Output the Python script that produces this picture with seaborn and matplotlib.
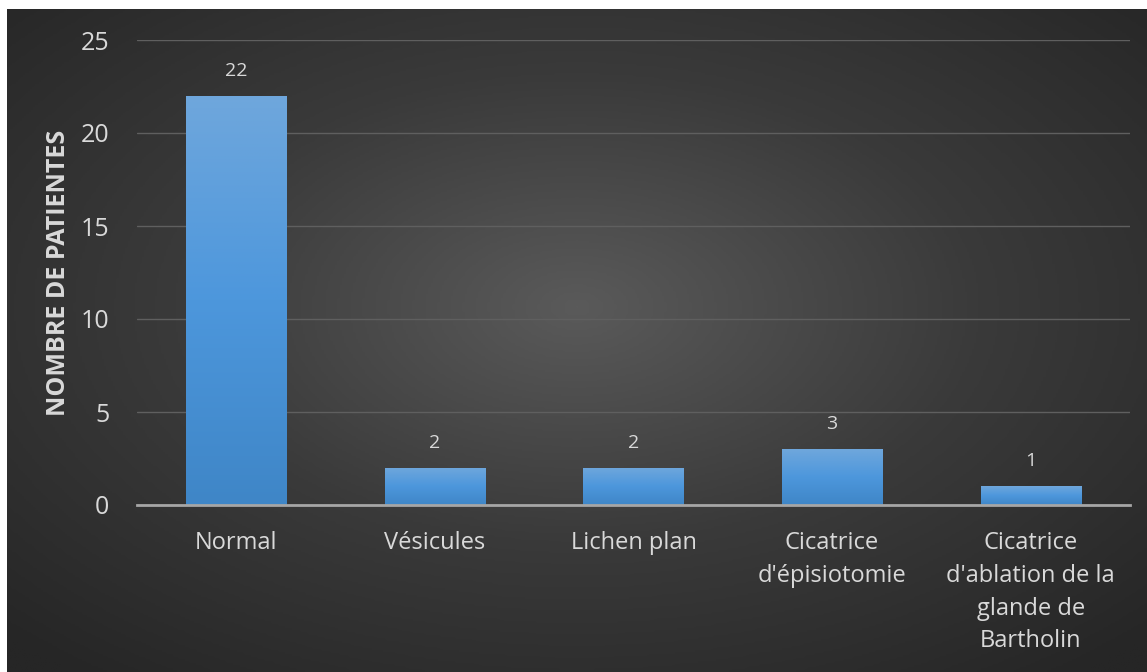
import numpy as np
import pandas as pd
import matplotlib
matplotlib.use("Agg")
import matplotlib.pyplot as plt
import seaborn as sns
from matplotlib.colors import LinearSegmentedColormap

categories = ["Normal", "Vésicules", "Lichen plan", "Cicatrice\nd'épisiotomie",
              "Cicatrice\nd'ablation de la\nglande de\nBartholin"]
values = [22, 2, 2, 3, 1]
y_ticks = [0, 5, 10, 15, 20, 25]
y_label = "NOMBRE DE PATIENTES"

sns.set_theme(style="dark")
plt.rcParams['font.family'] = ['Open Sans', 'DejaVu Sans']

W, H = 1147, 672
fig = plt.figure(figsize=(W / 100, H / 100), dpi=100)
fig.patch.set_facecolor("white")

# dark radial gradient background
bg = fig.add_axes([7 / W, 0, 1 - 7 / W, (H - 9) / H])
bg.set_axis_off()
yy, xx = np.mgrid[-1:1:300j, -1:1:500j]
r = np.sqrt(xx ** 2 + (yy + 0.1) ** 2) / np.sqrt(2)
bgcmap = LinearSegmentedColormap.from_list("bg", ["#5a5a5a", "#3a3a3a", "#262626"])
bg.imshow(r, cmap=bgcmap, aspect="auto", extent=[0, 1, 0, 1], vmin=0, vmax=1)
bg.set_xlim(0, 1)
bg.set_ylim(0, 1)

ax = fig.add_axes([137 / W, 1 - 505 / H, (1130 - 137) / W, (505 - 40) / H])
ax.patch.set_alpha(0)

df = pd.DataFrame({"cat": categories, "val": values})
sns.barplot(data=df, x="cat", y="val", color="#4a90d4", width=0.505, ax=ax,
            saturation=1, zorder=3)

barcmap = LinearSegmentedColormap.from_list("bar", ["#3f86c7", "#4d97dc", "#6fa7dc"])
grad = np.linspace(0, 1, 256).reshape(-1, 1)
for p in ax.patches:
    x0, y0 = p.get_x(), p.get_y()
    w, h = p.get_width(), p.get_height()
    im = ax.imshow(grad, cmap=barcmap, aspect="auto", origin="lower",
                   extent=[x0, x0 + w, y0, y0 + h], zorder=4)
    im.set_clip_path(p)
    p.set_edgecolor("none")

ax.set_xlim(-0.5, len(categories) - 0.5)
ax.set_ylim(0, 25)
ax.set_yticks(y_ticks)
ax.set_yticklabels([str(t) for t in y_ticks])

txt = "#d9d9d9"
for i, v in enumerate(values):
    ax.annotate(str(v), (i, v), xytext=(0, 18), textcoords="offset points",
                ha="center", va="center", color=txt, fontsize=14)

ax.grid(axis="y", color="#5f5f5f", linewidth=1, zorder=0)
ax.grid(axis="x", visible=False)
for s in ["top", "right", "left"]:
    ax.spines[s].set_visible(False)
ax.spines["bottom"].set_color("#a6a6a6")
ax.spines["bottom"].set_linewidth(2)
ax.spines["bottom"].set_zorder(5)

ax.tick_params(axis="y", colors=txt, labelsize=18, length=0, pad=20)
ax.tick_params(axis="x", colors=txt, labelsize=17, length=0, pad=19)
for lab in ax.get_xticklabels():
    lab.set_linespacing(1.48)
    lab.set_va("top")
ax.set_xlabel("")
ax.set_ylabel(y_label, color=txt, fontsize=18, fontweight="bold")
ax.yaxis.set_label_coords(-0.066, 0.5)

fig.savefig("out.png", dpi=100, facecolor=fig.get_facecolor())
